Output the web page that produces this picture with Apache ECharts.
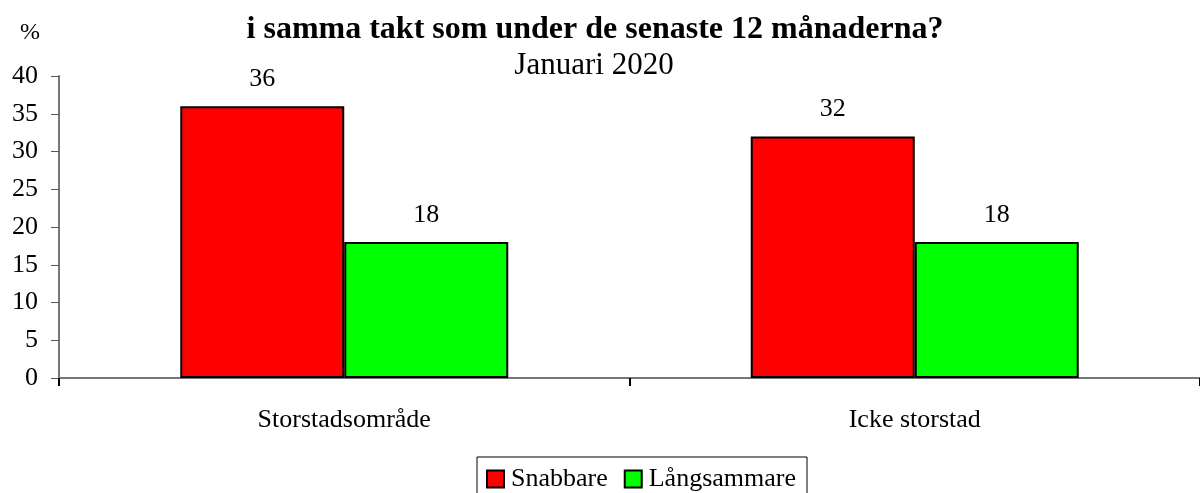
<!DOCTYPE html>
<html>
<head>
<meta charset="utf-8">
<script src="https://cdn.jsdelivr.net/npm/echarts@6/dist/echarts.min.js"></script>
<style>
  html, body { margin: 0; padding: 0; background: #fff; }
  #chart { width: 1200px; height: 493px; }
</style>
</head>
<body>
<div id="chart"></div>
<script>
const categories = ['Storstadsområde', 'Icke storstad']
const snabbare = [36, 32]
const langsammare = [18, 18]
const yTicks = [0, 5, 10, 15, 20, 25, 30, 35, 40]

const font = '"Liberation Serif", "DejaVu Serif", serif'
const chart = echarts.init(document.getElementById('chart'))

const option = {
  animation: false,
  textStyle: { fontFamily: font, color: '#000' },
  title: [
    {
      text: 'i samma takt som under de senaste 12 månaderna?',
      left: 590, top: 9, textAlign: 'center',
      textStyle: { fontFamily: font, fontSize: 32, fontWeight: 'bold', color: '#000' }
    },
    {
      text: 'Januari 2020',
      left: 589, top: 45, textAlign: 'center',
      textStyle: { fontFamily: font, fontSize: 31, fontWeight: 'normal', color: '#000' }
    },
    {
      text: '%',
      left: 15, top: 16,
      textStyle: { fontFamily: font, fontSize: 24, fontWeight: 'normal', color: '#000' }
    }
  ],
  legend: {
    left: 477, top: 457,
    padding: [9, 11, 14, 9],
    borderColor: '#000', borderWidth: 1,
    itemWidth: 17, itemHeight: 17, itemGap: 16,
    icon: 'rect',
    textStyle: { fontFamily: font, fontSize: 26, color: '#000', padding: [0, 0, 0, 2] },
    data: ['Snabbare', 'Långsammare']
  },
  grid: { left: 59, right: -3, top: 76, bottom: 115, containLabel: false },
  xAxis: {
    type: 'category',
    data: categories,
    axisLine: { lineStyle: { color: '#777', width: 2 } },
    axisTick: { show: true, length: 8, lineStyle: { color: '#000', width: 2 } },
    axisLabel: { fontFamily: font, fontSize: 26, color: '#000', margin: 29 }
  },
  yAxis: {
    type: 'value',
    min: yTicks[0], max: yTicks[yTicks.length - 1], interval: 5,
    splitLine: { show: false },
    axisLine: { show: true, lineStyle: { color: '#777', width: 2 } },
    axisTick: { show: true, length: 8, lineStyle: { color: '#555', width: 1 } },
    axisLabel: { fontFamily: font, fontSize: 26, color: '#000', margin: 21 }
  },
  series: [
    {
      name: 'Snabbare',
      type: 'bar',
      data: snabbare,
      barWidth: 164,
      barGap: '0%',
      itemStyle: { color: '#ff0000', borderColor: '#000', borderWidth: 2 },
      label: { show: true, position: 'top', distance: 14, fontFamily: font, fontSize: 26, color: '#000' }
    },
    {
      name: 'Långsammare',
      type: 'bar',
      data: langsammare,
      barWidth: 164,
      barGap: '0%',
      itemStyle: { color: '#00ff00', borderColor: '#000', borderWidth: 2 },
      label: { show: true, position: 'top', distance: 14, fontFamily: font, fontSize: 26, color: '#000' }
    }
  ]
}

chart.setOption(option)
</script>
</body>
</html>
